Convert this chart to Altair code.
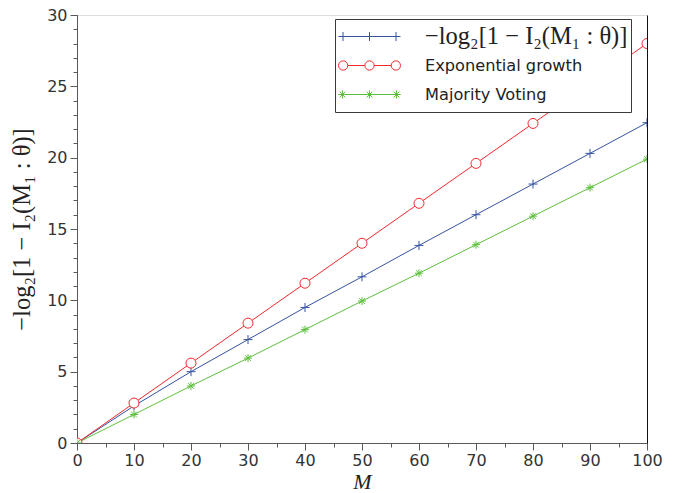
import altair as alt
import pandas as pd

# ---- data ----
M_values = [0, 10, 20, 30, 40, 50, 60, 70, 80, 90, 100]
info_values = [0, 2.6, 5.0, 7.25, 9.5, 11.65, 13.85, 16.0, 18.15, 20.3, 22.45]
exp_values = [0, 2.8, 5.6, 8.4, 11.2, 14.0, 16.8, 19.6, 22.4, 25.2, 28.0]
vote_values = [0, 2.0, 4.0, 5.95, 7.95, 9.95, 11.9, 13.9, 15.9, 17.9, 19.9]

series_labels = ["−log₂[1 − I₂(M₁ : θ)]", "Exponential growth", "Majority Voting"]
series_colors = ["#3552a3", "#f22a2e", "#5cbf3c"]

x_major = list(range(0, 101, 10))
x_minor = list(range(0, 101, 5))
y_major = list(range(0, 31, 5))
y_minor = list(range(0, 31, 1))

rows = []
for name, vals in zip(series_labels, [info_values, exp_values, vote_values]):
    for m, v in zip(M_values, vals):
        rows.append({"M": m, "value": v, "series": name})
df = pd.DataFrame(rows)

# ---- marker shapes (style) ----
plus_path = "M-0.9,0H0.9M0,-0.9V0.9"
star_path = "M-0.8,0H0.8M0,-0.8V0.8M-0.57,-0.57L0.57,0.57M-0.57,0.57L0.57,-0.57"

def fmt(v):
    return f"{v:.3f}"

# legend symbols: a line with three markers
c3 = [-0.855, 0.0, 0.855]
leg_plus = "M-1,0H1" + "".join(f"M{fmt(c)},-0.145V0.145" for c in c3)
r = 0.15
cc = [-0.85, 0.0, 0.85]
leg_circ = ""
for c in cc:
    leg_circ += f"M{fmt(c-r)},0A{r},{r} 0 1,0 {fmt(c+r)},0A{r},{r} 0 1,0 {fmt(c-r)},0Z"
leg_circ += f"M{fmt(cc[0]+r)},0H{fmt(-r)}M{fmt(r)},0H{fmt(cc[2]-r)}"
cs = [-0.87, 0.0, 0.87]
a, d = 0.13, 0.092
leg_star = "M-1,0H1"
for c in cs:
    leg_star += (f"M{fmt(c-a)},0H{fmt(c+a)}M{fmt(c)},{-a}V{a}"
                 f"M{fmt(c-d)},{-d}L{fmt(c+d)},{d}M{fmt(c-d)},{d}L{fmt(c+d)},{-d}")

xs = alt.Scale(domain=[0, 100], nice=False, zero=False)
ys = alt.Scale(domain=[0, 30], nice=False, zero=False)
cscale = alt.Scale(domain=series_labels, range=series_colors)

AX = "#5a5a5a"
LBL_FONT = "DejaVu Sans"
MATH_FONT = "Liberation Serif"

lines = alt.Chart(df).mark_line(strokeWidth=1, clip=True).encode(
    x=alt.X("M:Q", scale=xs, axis=alt.Axis(
        orient="bottom", values=x_minor, labels=False, tickSize=4, tickColor=AX,
        domainColor=AX, grid=False, title=None)),
    y=alt.Y("value:Q", scale=ys, axis=alt.Axis(
        orient="left", values=y_minor, labels=False, tickSize=4, tickColor=AX,
        domainColor=AX, grid=False, title=None)),
    color=alt.Color("series:N", scale=cscale, legend=None),
)

points = alt.Chart(df).mark_point(size=100, fill="white", strokeWidth=1, opacity=1, clip=True).encode(
    x=alt.X("M:Q", scale=xs, axis=alt.Axis(
        orient="bottom", values=x_major, tickSize=7, tickColor=AX, domainColor=AX,
        labelFont=LBL_FONT, labelFontSize=16, labelColor="#333", labelPadding=2,
        labelFlush=False,
        grid=False, title="M", titleFont=MATH_FONT, titleFontStyle="italic",
        titleFontSize=22, titleFontWeight="normal", titleColor="#222",
        titleX=285, titleY=45, titleBaseline="alphabetic", titleAlign="center")),
    y=alt.Y("value:Q", scale=ys, axis=alt.Axis(
        orient="left", values=y_major, tickSize=7, tickColor=AX, domainColor=AX,
        labelFont=LBL_FONT, labelFontSize=16, labelColor="#333", labelPadding=3,
        labelFlush=False,
        grid=False, title=series_labels[0], titleFont=MATH_FONT,
        titleFontSize=24.5, titleFontWeight="normal", titleColor="#222",
        titleAngle=270, titleX=-55, titleY=214, titleBaseline="middle", titleAlign="center")),
    color=alt.Color("series:N", scale=cscale, legend=None),
    shape=alt.Shape("series:N", scale=alt.Scale(domain=series_labels,
                                                range=[plus_path, "circle", star_path]), legend=None),
)

is_math = "(datum && datum.label && indexof(datum.label, 'log') >= 0)"
leg_def = dict(
    title=None, orient="none", legendX=258, legendY=4,
    fillColor="white", strokeColor="#3a3a3a", padding=3,
    symbolSize=3844, symbolStrokeWidth=1, clipHeight=29, rowPadding=0,
    labelOffset=24, labelLimit=500, labelColor="#222",
    labelFont={"expr": f"{is_math} ? '{MATH_FONT}' : '{LBL_FONT}'"},
    labelFontSize={"expr": f"{is_math} ? 24.5 : 16.2"},
)

legend_layer = alt.Chart(df).mark_point(size=0, fill="white", strokeWidth=1, opacity=1).encode(
    x=alt.X("M:Q", scale=xs, axis=None),
    y=alt.Y("value:Q", scale=ys, axis=alt.Axis(
        orient="right", labels=False, ticks=False, domainColor="#111", grid=False, title=None)),
    color=alt.Color("series:N", scale=cscale, legend=alt.Legend(**leg_def)),
    shape=alt.Shape("series:N", scale=alt.Scale(domain=series_labels,
                                                range=[leg_plus, leg_circ, leg_star]),
                    legend=alt.Legend(**leg_def)),
)

chart = alt.layer(lines, points, legend_layer).resolve_scale(
    color="independent", shape="independent"
).resolve_axis(
    x="independent", y="independent"
).properties(
    width=570, height=428,
    autosize=alt.AutoSizeParams(type="none"),
    padding={"left": 69, "top": 7, "right": 20, "bottom": 50},
).configure_view(stroke="#b4b4b4", strokeWidth=1).configure(background="white")

chart.save("out.html", embed_options={"renderer": "svg", "actions": False})
